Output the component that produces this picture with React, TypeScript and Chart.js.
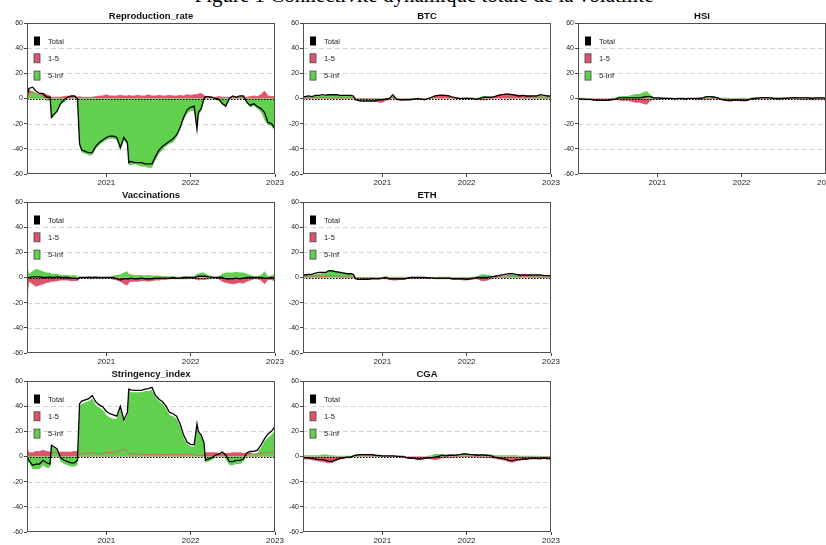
import React, { useEffect, useRef } from "react";
import { Chart, registerables } from "chart.js";

Chart.register(...registerables);

// ---------- data ----------
// x positions: months since 1 Jan 2020
const months = [0.72, 1, 1.5, 2, 2.5, 3, 3.5, 4, 4.2, 4.5,
  5, 5.5, 6, 6.5, 7, 7.5, 7.9, 8.2, 8.5, 9,
  9.5, 10, 10.5, 11, 11.5, 12, 12.5, 13, 13.5, 14,
  14.5, 15, 15.2, 15.5, 16, 16.5, 17, 17.5, 18, 18.5,
  19, 19.5, 20, 20.5, 21, 21.5, 22, 22.5, 23, 23.5,
  24, 24.5, 24.9, 25.1, 25.5, 25.9, 26.1, 26.5, 27, 27.5,
  28, 28.5, 29, 29.5, 30, 30.5, 31, 31.5, 32, 32.5,
  33, 33.5, 34, 34.5, 35, 35.5, 36];

const yearTicks = [12, 24, 36];
const yearLabels = ["2021", "2022", "2023"];
const gridValues = [-40, -20, 20, 40];
const legendLabels = ["Total", "1-5", "5-Inf"];
const figureTitle = "Figure 1 Connectivité dynamique totale de la volatilité";

// Reproduction_rate
const reproGreen = [-6, 3, 6, 4, 3, 2, -2, -1, -16, -14,
  -11, -5, -3, 0, 0.5, 0.5, -2, -38, -43, -44,
  -45, -45, -40, -37, -35, -33, -32, -32, -33, -42,
  -33, -37, -53, -53, -52, -53, -54, -54, -55, -55,
  -49, -44, -41, -38, -36, -35, -31, -25, -17, -12,
  -10, -10, -27, -14, -10, -2, 0, 0.5, 0, -1,
  -2, -5, -7, -1, 1, 0, 1, 1, -4, -7,
  -6, -8, -11, -17, -21, -22, -26];
const reproRed = [9, 7, 5, 4, 3, 4, 3, 2, 1, 1,
  1, 1, 1.5, 2, 1.5, 1.5, 1, 1.5, 1, 1,
  1, 1, 1.5, 2, 2, 3, 2, 2, 2, 2.5,
  2, 2, 2.5, 2, 2, 2.5, 2, 2, 3, 2,
  2, 2.5, 2, 2, 2.5, 2, 2, 2.5, 2, 3,
  2.5, 3, 3, 3.5, 4, 2.5, 1.5, 1, 1, 1,
  1.5, 1, 1, 1, 1, 1.5, 1, 1, 1, 1.5,
  2, 1.5, 3, 6, 2, 1.5, 1.5];
const reproTotal = [2, 8, 9, 6, 4, 4, 1, 1, -15, -13,
  -10, -4, -1, 1, 2, 2, 0, -36, -41, -42,
  -43, -43, -38, -35, -33, -31, -30, -30, -31, -39,
  -31, -35, -51, -50, -51, -51, -51, -52, -52, -52,
  -46, -41, -38, -36, -34, -32, -29, -23, -15, -9,
  -7, -6, -24, -11, -8, 0, 1.5, 1.5, 1, 0,
  -0.5, -4, -6, 0, 2, 1, 2, 2, -3, -5.5,
  -4, -6.5, -8, -11, -19, -20, -24];

// Stringency_index
const stringGreen = [-5, -5, -10, -10, -10, -7, -9, -9, 9, 7,
  5, -4, -6, -7, -8, -8, -7, 40, 42, 43,
  44, 46, 41, 39, 37, 33, 31, 30, 30, 38,
  27, 33, 52, 51, 51, 51, 51, 52, 52, 53,
  47, 44, 42, 38, 33, 32, 30, 24, 15, 10,
  8, 8, 25, 19, 16, 10, -5, -4, -3, -1,
  0, 1, -2, -7, -7, -6, -6, -4, 1, 2,
  2, 3, 7, 12, 15, 17, 21];
const stringRed = [7, 3, 3, 4, 4, 5, 4, 3.5, 3, 3,
  3, 3.5, 3.5, 3.5, 3.5, 4, 4, 2, 2, 2.5,
  3, 2.5, 2.5, 2, 2.5, 3, 3, 3, 4, 5,
  6, 4, 2, 2, 2, 2, 2, 1.5, 1.5, 1.5,
  2, 1.5, 1.5, 1.5, 1.5, 2, 1.5, 1.5, 1.5, 2,
  2, 1.5, 1, 1, 1, 1, 3, 3, 3, 3,
  2.5, 2.5, 2.5, 2.5, 3, 3, 3, 2.5, 2.5, 3,
  2, 2, 2.5, 3, 3, 3.5, 4];
const stringTotal = [0, -3, -7, -6, -6, -3, -5, -6, 9, 8,
  6, -1, -3, -4, -5, -5, -3, 42, 44, 45,
  46, 48.5, 43.5, 41, 39.5, 36, 34, 33, 32, 40,
  29, 35, 53.5, 53, 52.5, 52.5, 52.5, 53.5, 54, 55,
  48.5, 45.5, 43.5, 40, 35, 34, 32, 26, 17, 11.5,
  9.5, 9.5, 26, 20, 17, 11, -3, -2, -1, 1,
  2, 3.5, 1, -4, -4, -3, -3, -2, 3, 4,
  4, 5, 9, 14, 18, 20, 24];

// Vaccinations
const vaccGreen = [12, 3, 5, 7, 6, 5, 4, 4, 3, 3,
  3, 2, 2, 2, 1.5, 2, 1, 0.3, 0.2, 0.2,
  0.5, 0.3, 0.5, 0.3, 0.2, 0.2, 0.3, 1.5, 2, 2.5,
  4, 5, 3, 2.5, 2, 2, 2, 1.5, 2, 1.5,
  1.5, 1.5, 1, 1, 1, 1, 0.5, 0.5, 1, 1,
  0.5, 1, 3, 3, 4, 4, 3, 2, 1, 0.3,
  1, 3, 4, 4, 4, 4.5, 4, 4, 3, 2,
  1, 1, 2, 5, 1, 1.5, 3];
const vaccRed = [-13, -3, -5, -7, -6, -5, -4, -3.5, -3, -3,
  -2.5, -2, -2, -2, -2.5, -2.5, -2.5, -0.5, -0.3, -0.2,
  -0.2, -0.5, -0.3, -0.2, -0.3, -0.2, -0.3, -1.5, -2, -3,
  -5, -6, -4, -3, -3, -3, -2.5, -2.5, -3, -2.5,
  -2, -2, -1.5, -1.5, -1, -1, -1, -1, -1, -1,
  -0.5, -1, -1.5, -2, -1.5, -1.5, -1.5, -1, -0.5, -0.3,
  -1, -3, -4, -4.5, -5, -4.5, -4, -4.5, -3, -2,
  -1, -1, -2, -5, -1.5, -1.5, -3];
const vaccTotal = [-1, 0, 0.5, 0.5, 0.5, 0, 0, 0.5, 0, 0,
  0.5, 0, 0, 0, -0.5, -0.5, -1, 0, 0, 0,
  0.2, 0, 0.2, 0, 0, 0, 0, 0, -1, -2,
  -1, -1, -1, -0.5, -1, -1, -0.5, -1, -1, -1,
  -0.5, -0.5, -0.5, -0.5, -0.5, 0, -0.5, -0.5, 0, 0,
  0, 0, 0.5, 1, 1, 1, 1, 0.5, 0.3, 0,
  0, 0, -1, -1, -1, -0.5, -1, -0.5, 0, 0,
  0, 0, 0, -0.5, -0.5, 0, -0.5];

// BTC
const btcGreen = [1, 1, 1.5, 1, 2, 2, 2, 2, 3, 3.5,
  3.5, 3, 2.5, 2, 2, 2, 1.5, -1, -1.5, -2,
  -1.5, -1.5, -1, -1, -0.5, 0, 0.5, 0.5, 2, 0.5,
  0, 0, 0, -0.5, -0.5, 0, 0, -0.5, -0.5, 0,
  0.5, 0.5, 0, 0, 0, 0.5, 0, 0, 0, 0,
  0, 0, 0, 0.5, 0.5, 1, 1.5, 2, 1.5, 0.5,
  0, 0, 0, 0, 0.5, 0.5, 0, 0, 0.5, 0.5,
  0.5, 1, 1, 2.5, 1.5, 1.5, 1.5];
const btcRed = [0.5, 0.5, 0.5, 0.5, 0.5, 0.5, 1, 0.5, 0.5, 0.5,
  0.5, 0.5, 0.5, 0.5, 0.5, 0.5, 0.5, -0.5, -0.5, -0.5,
  -0.5, -1, -1.5, -2, -3, -3, -1.5, -1, 1, -1,
  -1, -1.5, -1, -1, -0.5, -0.5, 0, -0.5, -0.5, 0,
  1, 2, 2.5, 3, 2.5, 2, 1, 0.5, 0, 0,
  0.5, 0, 0, -0.5, -0.5, -1, -1, -1, -0.5, 0.5,
  1.5, 2.5, 3, 3.5, 3.5, 3, 3, 2.5, 2.5, 2,
  1.5, 1, 1, 1, 1, 1, 1];
const btcTotal = [1.5, 1.5, 2, 1.5, 2.5, 2.5, 3, 2.5, 3, 3,
  3, 3, 2.5, 2.5, 2.5, 2.5, 2, -1, -1.5, -2,
  -2, -2, -2, -2, -1, -1, -0.5, 0, 3, -0.5,
  -1, -1, -1, -1, -1, -0.5, 0, -0.5, -1, 0,
  1, 2, 2.5, 2.5, 2.5, 2, 1, 0.5, 0, 0,
  0, 0, 0, -0.5, -0.5, 0, 0.5, 1, 1, 1,
  1.5, 2.5, 3, 3.5, 3.5, 3, 2.5, 2, 2.5, 2,
  2, 2, 2, 3, 2.5, 2, 2];

// HSI
const hsiGreen = [0.5, 0.5, 0.5, 0.3, 0.3, 0, 0, 0, 0, 0,
  0, 0.5, 0.5, 1.5, 2, 2, 2, 2.5, 3, 3.5,
  3.5, 5, 6, 3, 1, 1, 0.5, 0.5, 0.3, 0.3,
  0, 0.3, 0.3, 0.3, 0, 0.3, 0.3, 0.3, 0.5, 1,
  2, 2, 1.5, 1, 0.5, 0.5, 0.5, 0.3, 0.3, 0.3,
  0.5, 0.5, 0.3, 0.3, 0.5, 0.5, 0.5, 0.8, 1, 1,
  0.8, 0.5, 0.5, 0.5, 0.5, 0.5, 0.8, 1, 1, 1,
  1, 1, 1, 1, 1, 1, 0.8];
const hsiRed = [-0.8, -0.8, -1, -1, -1, -1.2, -1.5, -1.5, -1.5, -1.5,
  -1.5, -1.3, -1, -1, -1.5, -1.5, -1.5, -2, -2.5, -3,
  -3, -4, -4.5, -1.5, -0.5, -0.5, -0.3, -0.3, -0.2, -0.2,
  -0.2, -0.2, -0.2, -0.2, -0.2, -0.2, -0.2, -0.3, -0.5, -0.5,
  -0.5, -0.5, -0.3, -0.3, -1, -1.5, -2, -2, -1.5, -1.5,
  -2, -2, -1.5, -1, -0.5, -0.5, -0.3, -0.3, -0.3, -0.3,
  -0.3, -0.3, -0.5, -0.5, -0.3, -0.3, -0.3, -0.3, -0.5, -0.5,
  -0.5, -0.5, -1, -0.5, -0.5, -0.5, -0.5];
const hsiTotal = [-0.3, -0.3, -0.5, -0.7, -0.7, -1.2, -1.5, -1.5, -1.5, -1.5,
  -1.5, -0.8, -0.5, 0.5, 0.5, 0.5, 0.5, 0.5, 0.5, 0.5,
  0.5, 1, 1.5, 1.5, 0.5, 0.5, 0.2, 0.2, 0.1, 0.1,
  -0.2, 0.1, 0.1, 0.1, -0.2, 0.1, 0.1, 0, 0, 0.5,
  1.5, 1.5, 1.2, 0.7, -0.5, -1, -1.5, -1.7, -1.2, -1.2,
  -1.5, -1.5, -1.2, -0.7, 0, 0, 0.2, 0.5, 0.7, 0.7,
  0.5, 0.2, 0, 0, 0.2, 0.2, 0.5, 0.7, 0.5, 0.5,
  0.5, 0.5, 0, 0.5, 0.5, 0.5, 0.3];

// ETH
const ethGreen = [1.5, 1.5, 2, 2, 2.5, 3, 3.5, 3.5, 5, 6,
  6, 5, 4.5, 4, 3.5, 3, 2.5, -1, -1.5, -1.5,
  -1.5, -1, -1, -0.5, -0.5, 0.5, 1, 0.5, 0.5, 0.5,
  0.5, 0.5, 0.5, 0.3, 0.3, 0.5, 0.5, 0.3, 0, 0,
  0.3, 0.3, 0.5, 0.5, 0.5, 0.5, 0.3, 0.3, 0.3, 0.5,
  0.3, 0.3, 0.5, 0.5, 1, 2, 2.5, 2.5, 2, 1.5,
  1, 1, 1, 1.5, 2, 2, 1, 0.5, 0.5, 0.5,
  0.5, 1, 1.5, 1.5, 1.5, 1, 1];
const ethRed = [1, 1, 1, 1, 1, 1, 1, 1, 1, 1.5,
  1.5, 1, 1, 0.5, 0.5, 0.3, 0.3, 0, -0.3, -0.3,
  -0.5, -0.5, -0.3, -0.5, -1, -1, -1, -1.5, -2, -2,
  -1.5, -1.5, -1.5, -1, -0.5, -0.5, -0.5, -0.5, -0.3, -0.5,
  -0.5, -1, -1, -1, -1, -1, -1.5, -1.5, -1.5, -2,
  -2, -1.5, -1.5, -1, -1, -2, -2.5, -2.5, -2, -1,
  0, 0.5, 1, 1, 1.5, 1.5, 1.5, 1.5, 1.5, 1.5,
  1.5, 1, 0.5, 0.5, 0.5, 0.5, 0.5];
const ethTotal = [2, 2, 2.5, 2.5, 3.5, 4, 4, 4, 5, 5.5,
  5, 4.5, 4, 3.5, 3, 3, 2.5, -1, -1.5, -1.5,
  -1.5, -1.5, -1, -1, -1, -0.5, 0, -1, -1, -1,
  -1, -1, -1, -0.5, 0, 0, 0, 0, 0, -0.3,
  -0.3, -0.5, -0.5, -0.5, -0.5, -0.5, -1, -1, -1, -1,
  -1.5, -1, -0.5, -0.5, 0, 0, 0, 0, 0, 0.5,
  1, 1.5, 2, 2.5, 3, 3, 2.5, 2, 2, 2,
  2, 2, 2, 2, 1.5, 1.5, 1.5];

// CGA
const cgaGreen = [1, 1, 1, 1, 1, 1, 1.5, 1.5, 1.5, 1,
  1, 0.5, 0.5, 0.5, 0.5, 0.5, 0.5, 0.5, 0.3, 0.5,
  0.5, 0.5, 0.5, 0.3, 0.3, 0.3, 0.5, 0.5, 0.5, 0.3,
  0, 0, 0, 0, 0, 0, 0, 0, 0, 0.5,
  1, 2, 2, 2, 1.5, 1.5, 1.5, 1.5, 1.5, 2,
  2, 1.5, 1.5, 1.5, 1.5, 1.5, 2, 1.5, 1.5, 1.5,
  1, 1, 1, 1, 1, 1, 1, 0.5, 0.5, 0.5,
  0.5, 0.5, 0.5, 0.3, 0.3, 0.3, 0.3];
const cgaRed = [-1.5, -2, -2, -2.5, -3, -3.5, -4, -4.5, -5, -5,
  -4.5, -3, -2, -1.5, -1, -1, 0, 0.5, 1, 1.5,
  1.5, 1.5, 1.5, 1, 0.5, 0.3, 0, 0, 0, 0,
  0, 0, -0.5, -1, -1.5, -1.5, -2, -2, -1.5, -1.5,
  -2, -2.5, -2, -1, -1, -0.5, -0.5, -0.3, 0, 0,
  0, 0, 0, -0.3, -0.3, -0.5, -0.5, -0.5, -0.5, -1,
  -1.5, -2, -2.5, -3, -4, -4.5, -3.5, -3, -2.5, -2.5,
  -2, -2, -2, -2, -1.5, -2, -2];
const cgaTotal = [-0.5, -1, -1, -1.5, -2, -2.5, -2.5, -3, -3.5, -4,
  -3.5, -2.5, -1.5, -1, -0.5, -0.5, 0.5, 1, 1.3, 1.5,
  1.5, 1.5, 1.5, 1, 0.8, 0.5, 0.5, 0.5, 0.5, 0.3,
  0, 0, -0.5, -1, -1.5, -1.5, -2, -2, -1.5, -1,
  -1, -0.5, 0, 1, 0.5, 1, 1, 1.2, 1.5, 2,
  2, 1.5, 1.5, 1.2, 1.2, 1, 1.5, 1, 1, 0.5,
  -0.5, -1, -1.5, -2, -3, -3.5, -2.5, -2.5, -2, -2,
  -1.5, -1.5, -1.5, -1.7, -1.2, -1.7, -1.7];

// ---------- styling ----------
const RED = "#DF536B";
const GREEN = "#61D04F";
const FONT = "'Liberation Sans', Arial, Helvetica, sans-serif";
const CANVAS_W = 292;
const CANVAS_H = 192;
const AXIS_W = 27;
const TOP_PAD = 23;
const PLOT_W = 248;
const PLOT_H = 151;

const panels = [
  { title: "Reproduction_rate", left: 0, top: 0, total: reproTotal, short: reproRed, long: reproGreen },
  { title: "BTC", left: 276, top: 0, total: btcTotal, short: btcRed, long: btcGreen },
  { title: "HSI", left: 551, top: 0, total: hsiTotal, short: hsiRed, long: hsiGreen },
  { title: "Vaccinations", left: 0, top: 179, total: vaccTotal, short: vaccRed, long: vaccGreen },
  { title: "ETH", left: 276, top: 179, total: ethTotal, short: ethRed, long: ethGreen },
  { title: "Stringency_index", left: 0, top: 358, total: stringTotal, short: stringRed, long: stringGreen },
  { title: "CGA", left: 276, top: 358, total: cgaTotal, short: cgaRed, long: cgaGreen },
];

const toXY = (arr: number[]) => months.map((m, i) => ({ x: m, y: arr[i] }));

const decorPlugin = {
  id: "decor",
  beforeDatasetsDraw(chart: any) {
    const { ctx, chartArea: a, scales } = chart;
    const y = scales.y;
    ctx.save();
    ctx.strokeStyle = "#d4d4d4";
    ctx.lineWidth = 1;
    ctx.setLineDash([5, 3]);
    for (const v of gridValues) {
      const py = Math.round(y.getPixelForValue(v)) + 0.5;
      ctx.beginPath();
      ctx.moveTo(a.left, py);
      ctx.lineTo(a.right, py);
      ctx.stroke();
    }
    ctx.restore();
  },
  afterDatasetsDraw(chart: any, _args: any, opts: any) {
    const { ctx, chartArea: a, scales } = chart;
    const y = scales.y;
    ctx.save();
    // zero line (dotted)
    const p0 = Math.round(y.getPixelForValue(0)) + 0.5;
    ctx.strokeStyle = "#000";
    ctx.lineWidth = 1;
    ctx.setLineDash([1.5, 1.5]);
    ctx.beginPath();
    ctx.moveTo(a.left, p0);
    ctx.lineTo(a.right, p0);
    ctx.stroke();
    ctx.setLineDash([]);
    // box
    ctx.strokeStyle = "#505050";
    ctx.lineWidth = 1;
    ctx.strokeRect(Math.round(a.left) + 0.5, Math.round(a.top) + 0.5, Math.round(a.right - a.left) - 1, Math.round(a.bottom - a.top) - 1);
    // legend
    const colors = ["#000", RED, GREEN];
    ctx.font = `7.5px ${FONT}`;
    ctx.textBaseline = "middle";
    ctx.textAlign = "left";
    legendLabels.forEach((lab, i) => {
      const cy = a.top + 18 + i * 17.3;
      ctx.fillStyle = colors[i];
      ctx.fillRect(a.left + 7, cy - 4.5, 6, 9);
      if (i > 0) {
        ctx.strokeStyle = "#444";
        ctx.lineWidth = 0.8;
        ctx.strokeRect(a.left + 7, cy - 4.5, 6, 9);
      }
      ctx.fillStyle = "#222";
      ctx.fillText(lab, a.left + 21, cy + 0.5);
    });
    // panel title
    ctx.font = `bold 9.5px ${FONT}`;
    ctx.textAlign = "center";
    ctx.fillStyle = "#111";
    ctx.fillText(opts.title, (a.left + a.right) / 2, a.top - 6.5);
    ctx.restore();
  },
};

function Panel({ p }: { p: any }) {
  const ref = useRef<HTMLCanvasElement | null>(null);
  useEffect(() => {
    if (!ref.current) return;
    const chart = new Chart(ref.current, {
      type: "line",
      data: {
        datasets: [
          { label: "Total", data: toXY(p.total), borderColor: "#000", borderWidth: 1.3, fill: false, pointRadius: 0, order: 0 },
          { label: "1-5 line", data: toXY(p.short), borderColor: RED, borderWidth: 0.8, fill: false, pointRadius: 0, order: 1 },
          { label: "5-Inf", data: toXY(p.long), borderColor: "rgba(0,0,0,0)", borderWidth: 0, backgroundColor: GREEN, fill: "origin", pointRadius: 0, order: 2 },
          { label: "1-5", data: toXY(p.short), borderColor: "rgba(0,0,0,0)", borderWidth: 0, backgroundColor: RED, fill: "origin", pointRadius: 0, order: 3 },
        ],
      },
      options: {
        animation: false,
        responsive: false,
        maintainAspectRatio: false,
        layout: { padding: { top: TOP_PAD, right: CANVAS_W - AXIS_W - PLOT_W, left: 0, bottom: 0 } },
        elements: { line: { tension: 0 } },
        plugins: {
          legend: { display: false },
          tooltip: { enabled: false },
          decor: { title: p.title },
        } as any,
        scales: {
          x: {
            type: "linear",
            min: months[0],
            max: months[months.length - 1],
            afterBuildTicks: (s: any) => {
              s.ticks = yearTicks.map((v) => ({ value: v }));
            },
            afterFit: (s: any) => {
              s.height = CANVAS_H - TOP_PAD - PLOT_H;
            },
            ticks: {
              autoSkip: false,
              maxRotation: 0,
              padding: 1,
              color: "#222",
              font: { size: 8, family: FONT },
              callback: (v: any) => {
                const i = yearTicks.indexOf(Number(v));
                return i >= 0 ? yearLabels[i] : "";
              },
            },
            grid: { drawOnChartArea: false, drawTicks: true, tickLength: 3, color: "#444" },
            border: { display: false },
          },
          y: {
            type: "linear",
            min: -60,
            max: 60,
            afterFit: (s: any) => {
              s.width = AXIS_W;
            },
            ticks: { stepSize: 20, padding: 1, color: "#222", font: { size: 7, family: FONT } },
            grid: { drawOnChartArea: false, drawTicks: true, tickLength: 3, color: "#444" },
            border: { display: false },
          },
        },
      } as any,
      plugins: [decorPlugin as any],
    });
    return () => chart.destroy();
  }, [p]);
  return (
    <canvas
      ref={ref}
      width={CANVAS_W}
      height={CANVAS_H}
      style={{ position: "absolute", left: p.left, top: p.top, width: CANVAS_W, height: CANVAS_H }}
    />
  );
}

export default function App() {
  return (
    <div style={{ position: "absolute", left: 0, top: 0, width: 826, height: 545, overflow: "hidden", background: "#fff" }}>
      <div
        style={{
          position: "absolute",
          left: 424,
          top: -14.6,
          transform: "translateX(-50%)",
          whiteSpace: "nowrap",
          fontFamily: "'Liberation Serif', 'Times New Roman', serif",
          fontSize: 21,
          lineHeight: "21px",
          color: "#000",
        }}
      >
        {figureTitle}
      </div>
      {panels.map((p) => (
        <Panel key={p.title} p={p} />
      ))}
    </div>
  );
}
